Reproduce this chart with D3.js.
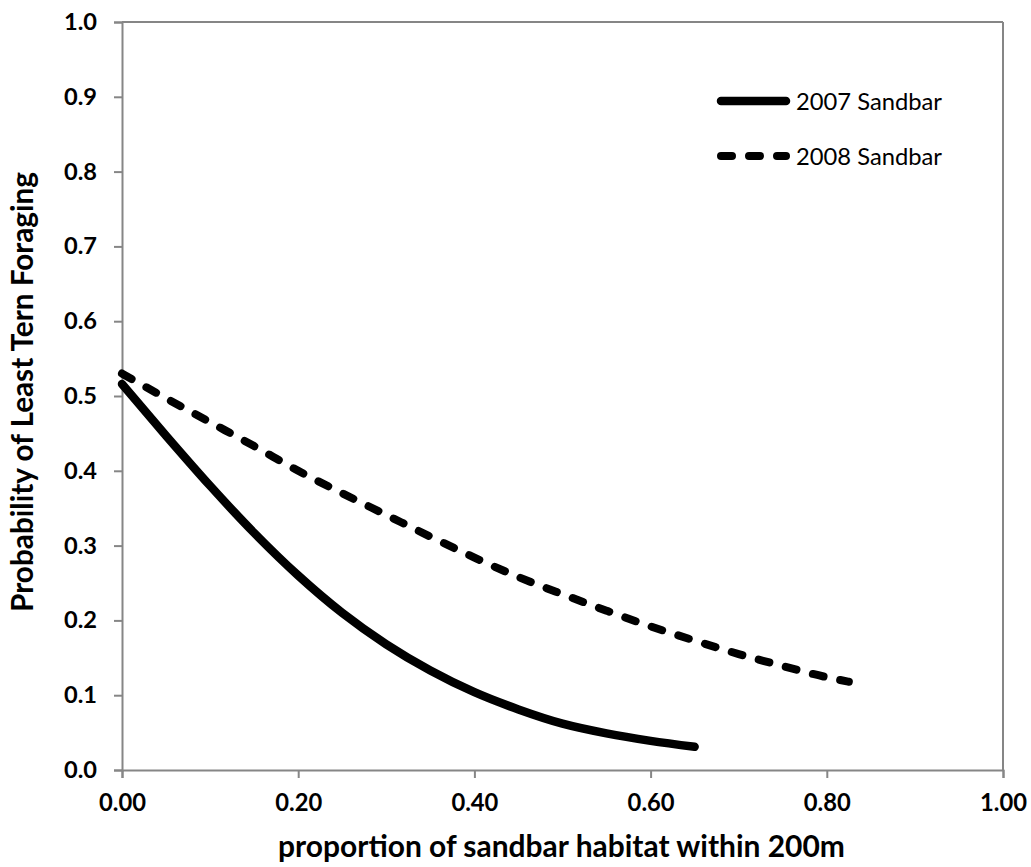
<!DOCTYPE html>
<html>
<head>
<meta charset="utf-8">
<script src="https://cdn.jsdelivr.net/npm/d3@7"></script>
<style>
  html, body { margin: 0; padding: 0; background: #fff; }
  svg { display: block; font-family: Lato, "Open Sans", sans-serif; }
</style>
</head>
<body>
<div id="chart"></div>
<script>
// values
const x2007 = [0, 0.05, 0.10, 0.15, 0.20, 0.25, 0.30, 0.35, 0.40, 0.45, 0.50, 0.55, 0.60, 0.65];
const p2007 = [0.516, 0.447, 0.380, 0.317, 0.260, 0.210, 0.168, 0.133, 0.104, 0.081, 0.062, 0.049, 0.039, 0.031];

const x2008 = [0, 0.05, 0.10, 0.15, 0.20, 0.25, 0.30, 0.35, 0.40, 0.45, 0.50, 0.55, 0.60, 0.65, 0.70, 0.75, 0.80, 0.825];
const p2008 = [0.530, 0.497, 0.465, 0.433, 0.400, 0.370, 0.341, 0.312, 0.284, 0.258, 0.235, 0.213, 0.192, 0.173, 0.155, 0.139, 0.124, 0.118];

const seriesNames = ['2007 Sandbar', '2008 Sandbar'];
const xTicks = [0, 0.2, 0.4, 0.6, 0.8, 1.0];
const yTicks = [0, 0.1, 0.2, 0.3, 0.4, 0.5, 0.6, 0.7, 0.8, 0.9, 1.0];

const W = 1031, H = 867;
const margin = { top: 22, right: 28, bottom: 97, left: 122 };
const width = W - margin.left - margin.right;
const height = H - margin.top - margin.bottom;
const axisColor = '#868686';

const svg = d3.select('#chart').append('svg')
  .attr('width', W)
  .attr('height', H);

const g = svg.append('g')
  .attr('transform', `translate(${margin.left},${margin.top})`);

const x = d3.scaleLinear().domain([0, 1]).range([0, width]);
const y = d3.scaleLinear().domain([0, 1]).range([height, 0]);

// scale a text's font-size so it spans the wanted width
function fitText(sel, target) {
  sel.style('font-size', '20px');
  const w = sel.node().getComputedTextLength();
  sel.style('font-size', (20 * target / w).toFixed(2) + 'px');
}

// plot frame (top + right)
g.append('line')
  .attr('x1', 0).attr('x2', width).attr('y1', 0).attr('y2', 0)
  .attr('stroke', axisColor).attr('stroke-width', 2);
g.append('line')
  .attr('x1', width).attr('x2', width).attr('y1', 0).attr('y2', height)
  .attr('stroke', axisColor).attr('stroke-width', 2);

const xAxis = g.append('g')
  .attr('transform', `translate(0,${height})`)
  .call(d3.axisBottom(x).tickValues(xTicks).tickFormat(d3.format('.2f')).tickSize(8).tickPadding(16));

const yAxis = g.append('g')
  .call(d3.axisLeft(y).tickValues(yTicks).tickFormat(d3.format('.1f')).tickSize(8).tickPadding(17));

[xAxis, yAxis].forEach(a => {
  a.select('.domain').attr('stroke', axisColor).attr('stroke-width', 2);
  a.selectAll('.tick line').attr('stroke', axisColor).attr('stroke-width', 2);
  a.selectAll('.tick text')
    .attr('fill', '#000')
    .style('font-weight', 'bold')
    .style('font-family', 'Lato, sans-serif');
});
xAxis.selectAll('.tick text').each(function () { fitText(d3.select(this), 47); });
yAxis.selectAll('.tick text').each(function () { fitText(d3.select(this), 33); });

// curves
const line = d3.line()
  .x(d => x(d[0]))
  .y(d => y(d[1]))
  .curve(d3.curveMonotoneX);

g.append('path')
  .datum(x2007.map((v, i) => [v, p2007[i]]))
  .attr('d', line)
  .attr('fill', 'none')
  .attr('stroke', '#000')
  .attr('stroke-width', 8.5)
  .attr('stroke-linecap', 'round');

g.append('path')
  .datum(x2008.map((v, i) => [v, p2008[i]]))
  .attr('d', line)
  .attr('fill', 'none')
  .attr('stroke', '#000')
  .attr('stroke-width', 8)
  .attr('stroke-linecap', 'round')
  .attr('stroke-dasharray', '11,17');

// legend
const legend = svg.append('g');
const legendY = [101, 156];
seriesNames.forEach((name, i) => {
  legend.append('line')
    .attr('x1', 721).attr('x2', 786)
    .attr('y1', legendY[i]).attr('y2', legendY[i])
    .attr('stroke', '#000')
    .attr('stroke-width', i === 0 ? 8.5 : 8)
    .attr('stroke-linecap', 'round')
    .attr('stroke-dasharray', i === 0 ? null : '11,17');
  const t = legend.append('text')
    .attr('x', 796)
    .attr('y', legendY[i])
    .attr('dy', '0.36em')
    .attr('fill', '#000')
    .text(name);
  fitText(t, 146);
});

// axis titles
const xTitle = svg.append('text')
  .attr('x', (278 + 845) / 2)
  .attr('y', 857)
  .attr('text-anchor', 'middle')
  .style('font-weight', 'bold')
  .attr('fill', '#000')
  .text('proportion of sandbar habitat within 200m');
fitText(xTitle, 567);

const yTitle = svg.append('text')
  .attr('transform', `translate(33,${(172 + 612) / 2}) rotate(-90)`)
  .attr('text-anchor', 'middle')
  .style('font-weight', 'bold')
  .attr('fill', '#000')
  .text('Probability of Least Tern Foraging');
fitText(yTitle, 440);
</script>
</body>
</html>
